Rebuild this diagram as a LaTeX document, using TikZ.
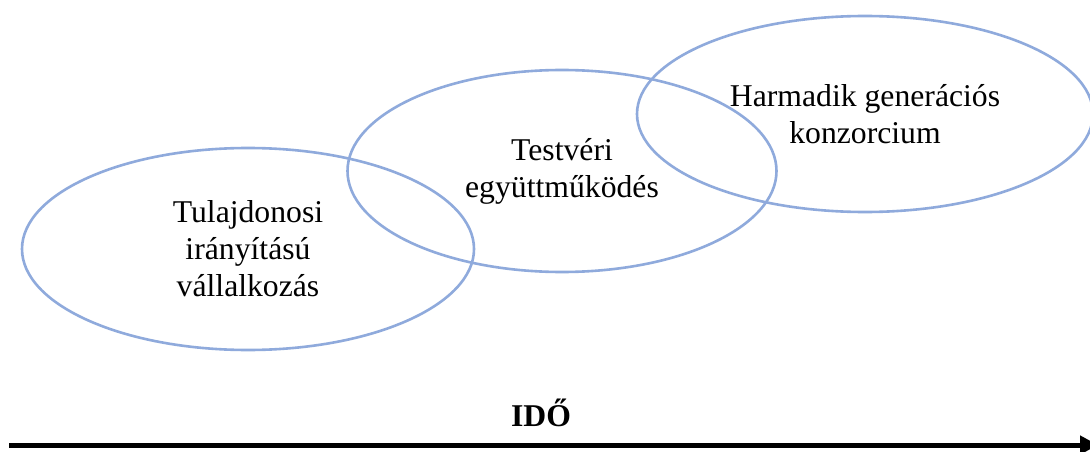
\documentclass[tikz,border=0pt]{standalone}
\usepackage{fontspec}
\setmainfont{Liberation Serif}
\usetikzlibrary{shapes.geometric,arrows.meta}
\definecolor{ellblue}{RGB}{143,170,220}
\tikzset{
  phase/.style={ellipse, draw=ellblue, line width=2.6pt, inner sep=0pt, align=center,
    font=\fontsize{31.7}{37}\selectfont},
  timeline/.style={line width=5pt, -{Triangle[length=18pt,width=18pt]}}
}
\begin{document}
\begin{tikzpicture}[x=1pt,y=-1pt]
\useasboundingbox (0,0) rectangle (1090,452);
\fill[white] (0,0) rectangle (1090,452);
\node[phase, minimum width=452pt, minimum height=202pt] (p1) at (248,249) {Tulajdonosi\\irányítású\\vállalkozás};
\node[phase, minimum width=429pt, minimum height=202pt] (p2) at (562,171) {Testvéri\\együttműködés};
\node[phase, minimum width=456pt, minimum height=196pt] (p3) at (865,114) {Harmadik generációs\\konzorcium};
\node[font=\bfseries\fontsize{31.7}{37}\selectfont] (ido) at (541,413) {IDŐ};
\coordinate (tstart) at (9,445);
\coordinate (tend) at (1098,445);
\draw[timeline] (tstart) -- (tend);
\end{tikzpicture}
\end{document}
